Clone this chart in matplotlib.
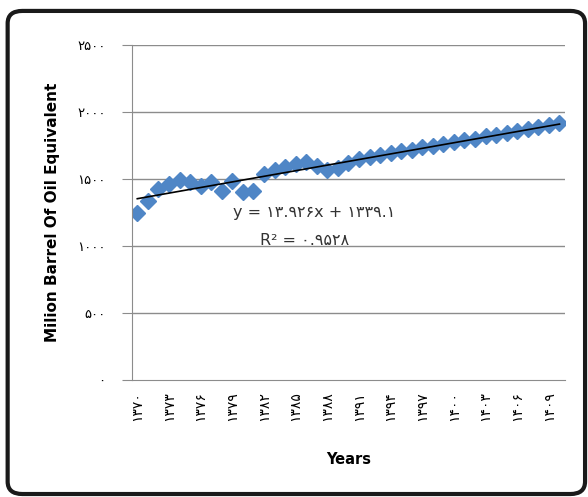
import numpy as np
import matplotlib
matplotlib.use('Agg')
import matplotlib.pyplot as plt
from matplotlib.patches import FancyBboxPatch

plt.rcParams['font.family'] = ['DejaVu Sans', 'Noto Sans']

# energy demand per year (index 1 = 1370 ... 41 = 1410)
year_idx = np.arange(1, 42)
demand = [1250, 1337, 1427, 1466, 1495, 1475, 1451, 1475, 1410, 1488,
          1400, 1410, 1538, 1568, 1592, 1612, 1628, 1597, 1568, 1582,
          1617, 1653, 1666, 1681, 1693, 1708, 1720, 1736, 1748, 1763,
          1775, 1790, 1802, 1818, 1830, 1846, 1858, 1873, 1885, 1901, 1915]

# linear trend reported on the chart
slope = 13.926
intercept = 1339.1

year_tick_pos = [1, 4, 7, 10, 13, 16, 19, 22, 25, 28, 31, 34, 37, 40]
year_labels = ['۱۳۷۰', '۱۳۷۳', '۱۳۷۶', '۱۳۷۹', '۱۳۸۲', '۱۳۸۵', '۱۳۸۸',
               '۱۳۹۱', '۱۳۹۴', '۱۳۹۷', '۱۴۰۰', '۱۴۰۳', '۱۴۰۶', '۱۴۰۹']
y_ticks = [0, 500, 1000, 1500, 2000, 2500]
y_labels = ['۰', '۵۰۰', '۱۰۰۰', '۱۵۰۰', '۲۰۰۰', '۲۵۰۰']

fig = plt.figure(figsize=(5.88, 4.97), dpi=100)
ax = fig.add_axes([0.2245, 0.2354, 0.736, 0.674])

grid_c = '#8c8c8c'
for v in y_ticks[1:]:
    ax.axhline(v, color=grid_c, lw=1.0, zorder=1)

ax.plot(year_idx, demand, linestyle='none', marker='D', markersize=8.5,
        color='#4f86c6', markeredgecolor='#4f86c6', zorder=2)

trend = slope * year_idx + intercept
ax.plot(year_idx, trend, color='black', lw=1.2, zorder=3)

ax.text(17.8, 1250, 'y = ۱۳.۹۲۶x + ۱۳۳۹.۱', fontsize=11.5, color='#333333',
        ha='center', va='center', zorder=4)
ax.text(16.9, 1040, 'R² = ۰.۹۵۲۸', fontsize=11.5, color='#333333',
        ha='center', va='center', zorder=4)

ax.set_xlim(0.5, 41.5)
ax.set_ylim(0, 2500)
ax.set_yticks(y_ticks)
ax.set_yticklabels(y_labels, fontsize=9.5)
ax.set_xticks(year_tick_pos)
ax.set_xticklabels(year_labels, rotation=90, fontsize=10)
ax.tick_params(axis='y', length=7, color=grid_c, pad=12)
ax.tick_params(axis='x', length=0, pad=8)

for s in ['top', 'right']:
    ax.spines[s].set_visible(False)
ax.spines['left'].set_color(grid_c)
ax.spines['bottom'].set_color(grid_c)

ax.set_ylabel('Milion Barrel Of Oil Equivalent', fontsize=11,
              fontweight='bold', labelpad=12)
ax.set_xlabel('Years', fontsize=10.5, fontweight='bold', labelpad=22)

# rounded frame around the whole chart
frame = FancyBboxPatch((0.013, 0.006), 0.982, 0.972,
                       boxstyle='round,pad=0,rounding_size=0.025',
                       transform=fig.transFigure, fill=False,
                       edgecolor='#1a1a1a', lw=3)
fig.patches.append(frame)

fig.savefig('out.png', dpi=100)
